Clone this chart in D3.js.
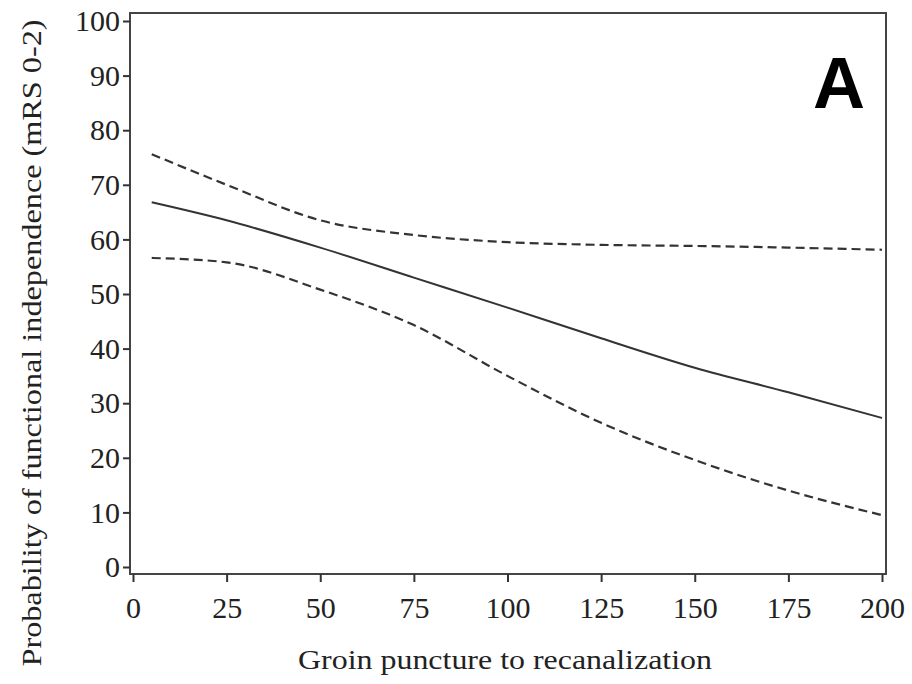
<!DOCTYPE html>
<html>
<head>
<meta charset="utf-8">
<script src="https://cdn.jsdelivr.net/npm/d3@7"></script>
<style>
  html, body { margin: 0; padding: 0; background: #fff; }
  svg { display: block; }
  .serif { font-family: "Liberation Serif", "Times New Roman", serif; fill: #222; }
</style>
</head>
<body>
<svg id="chart" width="912" height="684"></svg>
<script>
// Minutes from groin puncture to recanalization
const minutes = [5, 25, 50, 75, 100, 125, 150, 175, 200];
// Predicted probability (%) of mRS 0-2 and its 95% confidence band
const estimate = [66.8, 63.5, 58.5, 53.0, 47.5, 41.9, 36.5, 32.0, 27.3];
const upperCI  = [75.6, 70.0, 63.5, 60.8, 59.5, 59.0, 58.8, 58.5, 58.1];
const lowerCI  = [56.6, 55.8, 50.8, 44.3, 35.0, 26.4, 19.6, 14.0, 9.5];

const xTicks = [0, 25, 50, 75, 100, 125, 150, 175, 200];
const yTicks = [0, 10, 20, 30, 40, 50, 60, 70, 80, 90, 100];
const panelLabel = "A";
const xTitle = "Groin puncture to recanalization";
const yTitle = "Probability of functional independence (mRS 0-2)";

const svg = d3.select("#chart");
const frame = { left: 130, right: 886, top: 13, bottom: 574 };

const x = d3.scaleLinear().domain([0, 200]).range([133, 882]);
const y = d3.scaleLinear().domain([0, 100]).range([567, 21]);

const ink = "#333";

// Plot frame
svg.append("rect")
  .attr("x", frame.left).attr("y", frame.top)
  .attr("width", frame.right - frame.left)
  .attr("height", frame.bottom - frame.top)
  .attr("fill", "none").attr("stroke", "#444").attr("stroke-width", 2);

// X axis: minor ticks every 5, major every 25
const xAxisG = svg.append("g").attr("transform", `translate(0,${frame.bottom})`);
xAxisG.call(d3.axisBottom(x).tickValues(d3.range(0, 201, 5)).tickSize(5).tickFormat(""))
  .call(g => g.select(".domain").remove());
xAxisG.call(d3.axisBottom(x).tickValues(xTicks).tickSize(8).tickPadding(15))
  .call(g => g.select(".domain").remove())
  .call(g => g.selectAll("text").attr("class", "serif").style("font-size", "30px"));
xAxisG.selectAll("line").attr("stroke", ink).attr("stroke-width", 2);

// Y axis: minor ticks every 2, major every 10
const yAxisG = svg.append("g").attr("transform", `translate(${frame.left},0)`);
yAxisG.call(d3.axisLeft(y).tickValues(d3.range(0, 101, 2)).tickSize(4).tickFormat(""))
  .call(g => g.select(".domain").remove());
yAxisG.call(d3.axisLeft(y).tickValues(yTicks).tickSize(7).tickPadding(3))
  .call(g => g.select(".domain").remove())
  .call(g => g.selectAll("text").attr("class", "serif").style("font-size", "30px"));
yAxisG.selectAll("line").attr("stroke", ink).attr("stroke-width", 2);

// Curves
const line = d3.line()
  .x((d, i) => x(minutes[i]))
  .y(d => y(d))
  .curve(d3.curveMonotoneX);

svg.append("path").datum(upperCI)
  .attr("d", line).attr("fill", "none")
  .attr("stroke", ink).attr("stroke-width", 2.2)
  .attr("stroke-dasharray", "9,5");
svg.append("path").datum(lowerCI)
  .attr("d", line).attr("fill", "none")
  .attr("stroke", ink).attr("stroke-width", 2.2)
  .attr("stroke-dasharray", "9,5");
svg.append("path").datum(estimate)
  .attr("d", line).attr("fill", "none")
  .attr("stroke", ink).attr("stroke-width", 2);

// Panel letter
svg.append("text")
  .attr("x", 839).attr("y", 108)
  .attr("text-anchor", "middle")
  .style("font-family", "'Liberation Sans', Arial, sans-serif")
  .style("font-weight", "bold")
  .style("font-size", "72px")
  .style("fill", "#000")
  .text(panelLabel);

// Axis titles
svg.append("text")
  .attr("class", "serif")
  .attr("x", 505).attr("y", 669)
  .attr("text-anchor", "middle")
  .style("font-size", "27px")
  .attr("textLength", 414).attr("lengthAdjust", "spacingAndGlyphs")
  .text(xTitle);

svg.append("text")
  .attr("class", "serif")
  .attr("transform", "translate(41,343) rotate(-90)")
  .attr("text-anchor", "middle")
  .style("font-size", "27px")
  .attr("textLength", 647).attr("lengthAdjust", "spacingAndGlyphs")
  .text(yTitle);
</script>
</body>
</html>
